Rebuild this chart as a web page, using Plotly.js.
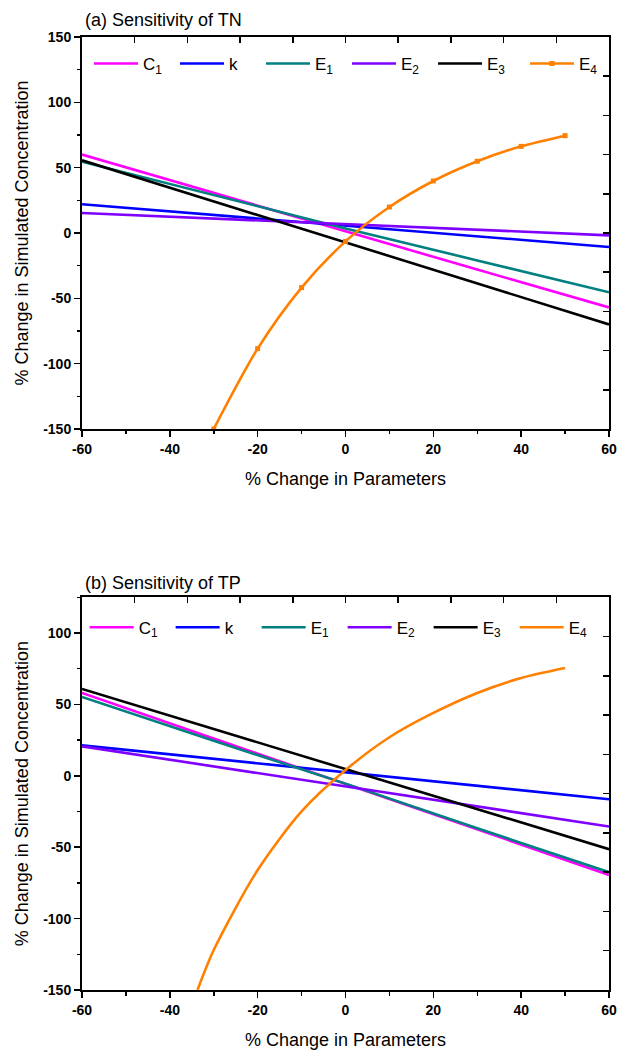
<!DOCTYPE html>
<html><head><meta charset="utf-8">
<script src="https://cdn.plot.ly/plotly-3.0.1.min.js"></script>
<style>html,body{margin:0;padding:0;background:#fff}#chart{width:619px;height:1050px}</style>
</head><body><div id="chart"></div>
<script>
// x positions (% change in parameters) where the fitted lines were read
const xFit = [-60, -30, 0, 30, 60];

// (a) Sensitivity of TN
const tnC1 = [60, 30.5, 1, -28, -57];
const tnK  = [22, 13.8, 5.3, -2.5, -10.7];
const tnE1 = [54.5, 29, 3.5, -21, -45.4];
const tnE2 = [15.3, 11, 6.9, 2.5, -1.8];
const tnE3 = [55.6, 24.2, -7.2, -38.6, -70];
const tnE4x = [-30, -20, -10, 0, 10, 20, 30, 40, 50];
const tnE4  = [-150, -88.5, -41.8, -6.4, 19.9, 39.8, 54.9, 66.3, 74.5];

// (b) Sensitivity of TP
const tpC1 = [58, 26.2, -5.7, -37.6, -69.4];
const tpK  = [21.3, 11.9, 2.5, -7, -16.4];
const tpE1 = [55.2, 24.5, -5.5, -36.8, -67.5];
const tpE2 = [20.6, 6.6, -7.5, -21.5, -35.5];
const tpE3 = [60.8, 32.8, 4.5, -23.4, -51.4];
const tpE4x = [-33.7, -30, -20, -10, 0, 10, 20, 30, 40, 50];
const tpE4  = [-150, -122, -66, -25, 4, 27, 44, 58, 68.5, 75.5];

// tick labels
const xTickVals = [-60, -40, -20, 0, 20, 40, 60];
const xTickText = ['-60', '-40', '-20', '0', '20', '40', '60'];
const yTickValsA = [-150, -100, -50, 0, 50, 100, 150];
const yTickTextA = ['-150', '-100', '-50', '0', '50', '100', '150'];
const yTickValsB = [-150, -100, -50, 0, 50, 100];
const yTickTextB = ['-150', '-100', '-50', '0', '50', '100'];

const names = ['C<sub>1</sub>', 'k', 'E<sub>1</sub>', 'E<sub>2</sub>', 'E<sub>3</sub>', 'E<sub>4</sub>'];
const colors = ['#FF00FF', '#0000FF', '#008080', '#8000FF', '#000000', '#FF8000'];

const FONT = 'Arial, "Liberation Sans", sans-serif';
const LW = 2.6;

function lineTrace(x, y, i, xa, ya, leg) {
  return {x: x, y: y, type: 'scatter', mode: 'lines', name: names[i],
    line: {color: colors[i], width: LW}, xaxis: xa, yaxis: ya, legend: leg, hoverinfo: 'skip'};
}

// E4 is drawn on the mirrored top/right axes (identical ranges) so that those frame axes are rendered
const traces = [
  lineTrace(xFit, tnC1, 0, 'x', 'y', 'legend'),
  lineTrace(xFit, tnK, 1, 'x', 'y', 'legend'),
  lineTrace(xFit, tnE1, 2, 'x', 'y', 'legend'),
  lineTrace(xFit, tnE2, 3, 'x', 'y', 'legend'),
  lineTrace(xFit, tnE3, 4, 'x', 'y', 'legend'),
  {x: tnE4x, y: tnE4, type: 'scatter', mode: 'lines+markers', name: names[5],
   line: {color: colors[5], width: LW, shape: 'spline', smoothing: 0.8},
   marker: {symbol: 'square', size: 5, color: colors[5]},
   xaxis: 'x3', yaxis: 'y3', legend: 'legend3', hoverinfo: 'skip'},
  lineTrace(xFit, tpC1, 0, 'x2', 'y2', 'legend2'),
  lineTrace(xFit, tpK, 1, 'x2', 'y2', 'legend2'),
  lineTrace(xFit, tpE1, 2, 'x2', 'y2', 'legend2'),
  lineTrace(xFit, tpE2, 3, 'x2', 'y2', 'legend2'),
  lineTrace(xFit, tpE3, 4, 'x2', 'y2', 'legend2'),
  {x: tpE4x, y: tpE4, type: 'scatter', mode: 'lines', name: names[5],
   line: {color: colors[5], width: LW, shape: 'spline', smoothing: 0.8},
   xaxis: 'x4', yaxis: 'y4', legend: 'legend4', hoverinfo: 'skip'}
];

const tickFont = {family: FONT, size: 14, color: '#000', weight: 'bold'};
const titleFont = {family: FONT, size: 18, color: '#000'};

function bottomAxis(anchor) {
  return {range: [-60, 60], anchor: anchor, tickmode: 'array', tickvals: xTickVals, ticktext: xTickText,
    ticks: 'outside', ticklen: 6, tickwidth: 1.5, tickcolor: '#000',
    minor: {tickmode: 'linear', tick0: -60, dtick: 10, ticks: 'outside', ticklen: 3.5, tickwidth: 1.5, tickcolor: '#000'},
    showline: true, linewidth: 2, linecolor: '#000', showgrid: false, zeroline: false,
    tickfont: tickFont, title: {text: '% Change in Parameters', font: titleFont, standoff: 17}};
}
function leftAxis(anchor, domain, range, vals, text) {
  return {range: range, anchor: anchor, domain: domain, tickmode: 'array', tickvals: vals, ticktext: text,
    ticks: 'outside', ticklen: 6, tickwidth: 1.5, tickcolor: '#000',
    minor: {tickmode: 'linear', tick0: 0, dtick: 25, ticks: 'outside', ticklen: 3.5, tickwidth: 1.5, tickcolor: '#000'},
    showline: true, linewidth: 2, linecolor: '#000', showgrid: false, zeroline: false,
    tickfont: tickFont, title: {text: '% Change in Simulated Concentration', font: titleFont, standoff: 10}};
}
function topAxis(overlay, anchor) {
  return {range: [-60, 60], overlaying: overlay, anchor: anchor, side: 'top', tickmode: 'linear', dtick: 12, tick0: -60,
    ticks: 'inside', ticklen: 6, tickwidth: 1.5, tickcolor: '#000', showticklabels: false,
    showline: true, linewidth: 2, linecolor: '#000', showgrid: false, zeroline: false};
}
function rightAxis(overlay, anchor, range) {
  return {range: range, overlaying: overlay, anchor: anchor, side: 'right', tickmode: 'linear',
    dtick: (range[1] - range[0]) / 10, tick0: range[0],
    ticks: 'inside', ticklen: 6, tickwidth: 1.5, tickcolor: '#000', showticklabels: false,
    showline: true, linewidth: 2, linecolor: '#000', showgrid: false, zeroline: false};
}

const legendBase = {orientation: 'h', xanchor: 'left', yanchor: 'middle', bgcolor: 'rgba(0,0,0,0)',
  font: {family: FONT, size: 17, color: '#000'}, itemwidth: 44, entrywidth: 27, entrywidthmode: 'pixels',
  tracegroupgap: 0, itemclick: false, itemdoubleclick: false};

const layout = {
  width: 619, height: 1050,
  margin: {l: 82, r: 9, t: 37, b: 60},
  paper_bgcolor: '#fff', plot_bgcolor: '#fff',
  font: {family: FONT, color: '#000'},
  xaxis: bottomAxis('y'),
  yaxis: leftAxis('x', [0.5887, 1], [-150, 150], yTickValsA, yTickTextA),
  xaxis2: bottomAxis('y2'),
  yaxis2: leftAxis('x2', [0, 0.4121], [-150, 125], yTickValsB, yTickTextB),
  xaxis3: topAxis('x', 'y'),
  yaxis3: rightAxis('y', 'x', [-150, 150]),
  xaxis4: topAxis('x2', 'y2'),
  yaxis4: rightAxis('y2', 'x2', [-150, 125]),
  legend: Object.assign({x: 0.0133, y: 0.9717}, legendBase),
  legend3: Object.assign({x: 0.839, y: 0.9717}, legendBase),
  legend2: Object.assign({x: 0.005, y: 0.3802}, legendBase),
  legend4: Object.assign({x: 0.8195, y: 0.3802}, legendBase),
  showlegend: true,
  annotations: [
    {text: '(a) Sensitivity of TN', xref: 'paper', yref: 'paper', x: 0.002, y: 1.0178, xanchor: 'left', yanchor: 'middle', showarrow: false, font: {family: FONT, size: 18, color: '#000'}},
    {text: '(b) Sensitivity of TP', xref: 'paper', yref: 'paper', x: 0.002, y: 0.4271, xanchor: 'left', yanchor: 'middle', showarrow: false, font: {family: FONT, size: 18, color: '#000'}}
  ]
};

Plotly.newPlot('chart', traces, layout, {staticPlot: true, displayModeBar: false});
</script></body></html>
